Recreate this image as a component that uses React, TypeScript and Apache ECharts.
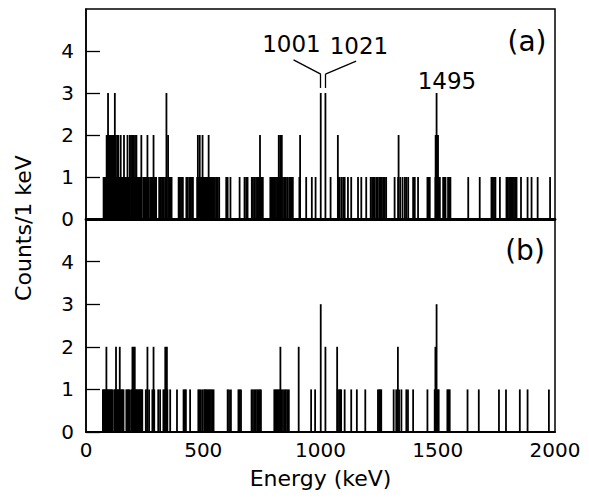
import React, { useEffect, useRef } from "react";
import * as echarts from "echarts";

// Panel (a): energies (keV) of 1-keV bins holding 1, 2 and 3 counts
const aOnes = [
  75, 78, 81, 84, 87, 90, 93, 97, 100, 103, 106, 110, 113, 116, 120, 124, 131, 134, 137, 141, 144, 148, 151, 155,
  158, 162, 165, 169, 172, 176, 180, 183, 187, 194, 197, 201, 204, 208, 212, 215, 219, 223, 227, 230, 234, 238,
  246, 250, 253, 257, 261, 265, 273, 277, 281, 285, 289, 293, 297, 299,
  312, 316, 320, 326, 332, 338, 344, 350, 356, 362, 365,
  395, 400, 405, 410, 413, 428, 433, 440, 447, 452, 456,
  474, 478, 482, 486, 490, 494, 498, 502, 506, 510, 514, 518, 522, 526, 530, 535, 540, 545, 550, 556, 562, 568,
  598, 604, 616, 655, 676, 683, 689, 707, 712, 718, 725, 730, 735, 740, 745, 750, 754,
  786, 790, 795, 800, 805, 810, 815, 820, 825, 830, 835, 840, 846, 852, 858, 866, 872, 878, 882,
  910, 939, 963, 979, 1043, 1075, 1082, 1090, 1097, 1103, 1117, 1131, 1160, 1174, 1195,
  1214, 1220, 1226, 1231, 1238, 1243, 1250, 1256, 1262, 1268, 1274, 1280, 1316, 1331, 1340, 1350,
  1360, 1366, 1374, 1395, 1402, 1416, 1456, 1462, 1466, 1490, 1503, 1509, 1523, 1528, 1533, 1544, 1549, 1554,
  1630, 1679, 1729, 1735, 1740, 1746, 1765, 1793, 1798, 1804, 1810, 1815, 1820, 1825, 1830, 1836, 1855, 1883,
  1900, 1926, 1979,
];
const aTwos = [
  88, 92, 96, 100, 104, 108, 113, 118, 122, 127, 133, 138, 148, 162, 177, 187, 192, 197, 203, 209, 215, 236, 262,
  288, 350, 477, 485, 497, 523, 742, 822, 828, 835, 913, 1074, 1333, 1491, 1493, 1497, 1499, 1501,
];
const aThrees = [94, 123, 343, 1001, 1021, 1495];

// Panel (b)
const bOnes = [
  72, 76, 80, 84, 88, 92, 96, 100, 104, 108, 112, 120, 124, 128, 132, 136, 140, 144, 148, 152, 156, 160, 172, 176,
  180, 184, 192, 196, 200, 204, 208, 212, 216, 220, 224, 228, 232, 236, 240,
  255, 261, 269, 283, 291, 308, 316, 330, 335, 341, 347, 359, 388, 416, 421, 426, 444,
  479, 484, 490, 497, 504, 508, 513, 518, 523, 528, 533, 538, 544, 604, 610, 618, 650, 656, 661,
  706, 712, 718, 724, 730, 736, 741, 746, 803, 808, 813, 818, 823, 828, 834, 840, 846, 852, 858, 865,
  960, 977, 1073, 1079, 1084, 1088, 1103, 1131, 1155, 1191, 1245, 1250, 1255, 1259, 1312, 1323, 1335, 1345,
  1366, 1373, 1395, 1456, 1487, 1500, 1504, 1541, 1546, 1551, 1627, 1675, 1761, 1791, 1850, 1883, 1974,
];
const bTwos = [87, 128, 144, 198, 203, 208, 262, 288, 338, 345, 829, 907, 1021, 1071, 1330, 1490];
const bThrees = [1001, 1495];

const xTicks = [0, 500, 1000, 1500, 2000];
const peakLabels = ["1001", "1021", "1495"];

function merge(ones: number[], twos: number[], threes: number[]): number[][] {
  const m = new Map<number, number>();
  const add = (arr: number[], c: number) =>
    arr.forEach((e) => m.set(e, Math.max(m.get(e) || 0, c)));
  add(ones, 1);
  add(twos, 2);
  add(threes, 3);
  return Array.from(m.entries()).sort((p, q) => p[0] - q[0]);
}

const FONT = "DejaVu Sans";

export default function App() {
  const ref = useRef<HTMLDivElement>(null);
  useEffect(() => {
    if (!ref.current) return;
    const chart = echarts.init(ref.current, null, { renderer: "svg" });
    const yAxisBase = (gridIndex: number) => ({
      type: "value",
      gridIndex,
      min: 0,
      max: 5,
      interval: 1,
      axisLine: { show: true, lineStyle: { color: "#000", width: 1.5 } },
      axisTick: { show: true, inside: true, length: 14, lineStyle: { color: "#000", width: 1.3 } },
      axisLabel: { show: true, showMaxLabel: false, color: "#000", fontSize: 20, fontFamily: FONT, margin: 12 },
      splitLine: { show: false },
    });
    const lineStyle = { color: "#000", width: 1.3 };
    chart.setOption({
      animation: false,
      backgroundColor: "#fff",
      grid: [
        { left: 86, top: 9, width: 469, height: 210, show: true, borderColor: "#000", borderWidth: 1.5 },
        { left: 86, top: 219, width: 469, height: 213, show: true, borderColor: "#000", borderWidth: 1.5 },
      ],
      xAxis: [
        {
          type: "value",
          gridIndex: 0,
          min: 0,
          max: 2000,
          interval: 500,
          axisLine: { show: true, lineStyle: { color: "#000", width: 2.8 } },
          axisTick: { show: false },
          axisLabel: { show: false },
          splitLine: { show: false },
        },
        {
          type: "value",
          gridIndex: 1,
          min: 0,
          max: 2000,
          interval: 500,
          axisLine: { show: true, lineStyle: { color: "#000", width: 1.8 } },
          axisTick: { show: false },
          axisLabel: {
            show: true,
            color: "#000",
            fontSize: 20,
            fontFamily: FONT,
            margin: 8,
            formatter: (v: number) => (xTicks.includes(v) ? String(v) : ""),
          },
          splitLine: { show: false },
          name: "Energy (keV)",
          nameLocation: "middle",
          nameGap: 35,
          nameTextStyle: { color: "#000", fontSize: 22, fontFamily: FONT },
        },
      ],
      yAxis: [yAxisBase(0), yAxisBase(1)],
      series: [
        {
          type: "bar",
          xAxisIndex: 0,
          yAxisIndex: 0,
          barWidth: 1.8,
          itemStyle: { color: "#000" },
          data: merge(aOnes, aTwos, aThrees),
          markLine: {
            silent: true,
            symbol: "none",
            label: { show: false },
            lineStyle: { ...lineStyle, type: "solid" },
            data: [
              [{ coord: [1001, 3.12] }, { coord: [1001, 3.45] }],
              [{ coord: [1001, 3.45] }, { coord: [885, 3.79] }],
              [{ coord: [1021, 3.12] }, { coord: [1021, 3.45] }],
              [{ coord: [1021, 3.45] }, { coord: [1152, 3.76] }],
            ],
          },
          markPoint: {
            silent: true,
            symbol: "circle",
            symbolSize: 0,
            label: {
              show: true,
              position: "inside",
              formatter: "{b}",
              color: "#000",
              fontSize: 23,
              fontFamily: FONT,
            },
            data: [
              { name: peakLabels[0], coord: [876, 4.17] },
              { name: peakLabels[1], coord: [1164, 4.12] },
              { name: peakLabels[2], coord: [1539, 3.29] },
            ],
          },
        },
        {
          type: "bar",
          xAxisIndex: 1,
          yAxisIndex: 1,
          barWidth: 1.8,
          itemStyle: { color: "#000" },
          data: merge(bOnes, bTwos, bThrees),
        },
      ],
      graphic: [
        {
          type: "text",
          x: 23,
          y: 228,
          rotation: Math.PI / 2,
          style: {
            text: "Counts/1 keV",
            fill: "#000",
            fontSize: 22,
            fontFamily: FONT,
            align: "center",
            verticalAlign: "middle",
          },
        },
        {
          type: "text",
          x: 527,
          y: 41,
          style: { text: "(a)", fill: "#000", fontSize: 28, fontFamily: FONT, align: "center", verticalAlign: "middle" },
        },
        {
          type: "text",
          x: 525,
          y: 250,
          style: { text: "(b)", fill: "#000", fontSize: 28, fontFamily: FONT, align: "center", verticalAlign: "middle" },
        },
      ],
    });
    return () => chart.dispose();
  }, []);
  return (
    <div
      ref={ref}
      style={{ position: "fixed", left: 0, top: 0, width: 589, height: 499, background: "#fff" }}
    />
  );
}
